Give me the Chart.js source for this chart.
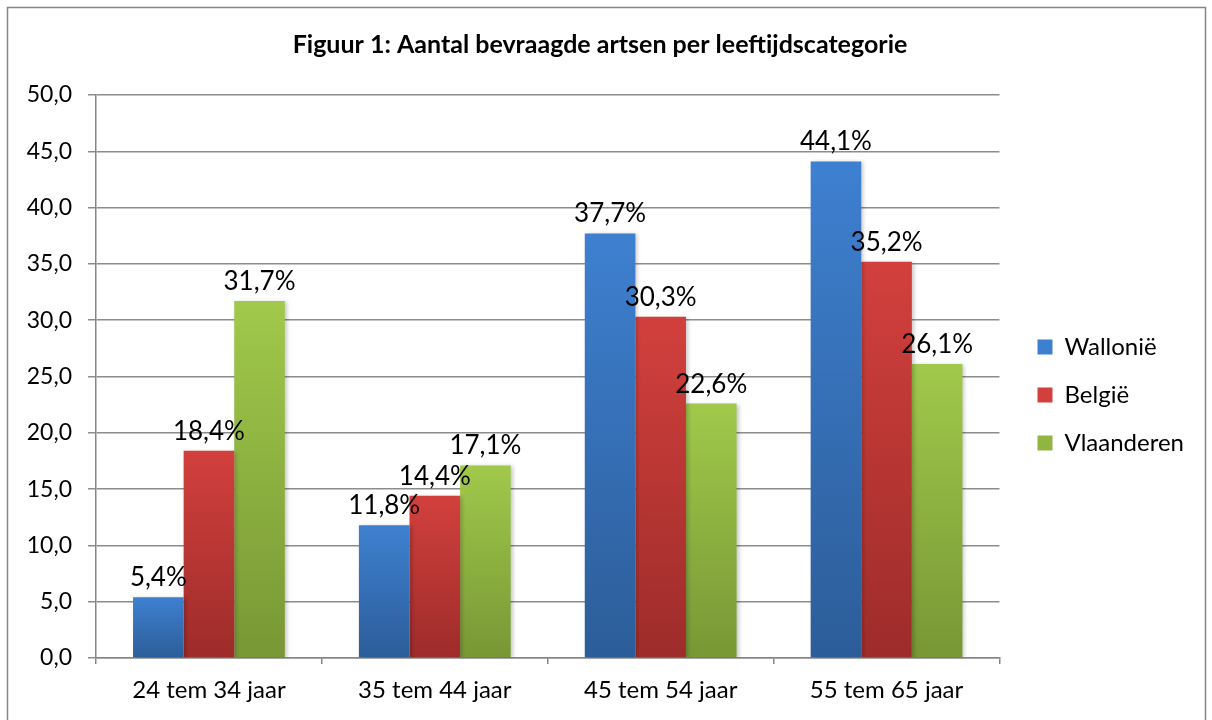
<!DOCTYPE html>
<html>
<head>
<meta charset="utf-8">
<script src="https://cdn.jsdelivr.net/npm/chart.js@4.4.1/dist/chart.umd.min.js"></script>
<style>
  html, body { margin: 0; padding: 0; background: #fff; }
  #wrap { position: absolute; left: 0; top: 0; width: 1212px; height: 720px; }
</style>
</head>
<body>
<div id="wrap"><canvas id="chart" width="1212" height="720"></canvas></div>
<script>
// categorieën en reeksen
const categories = ['24 tem 34 jaar', '35 tem 44 jaar', '45 tem 54 jaar', '55 tem 65 jaar'];
const wallonie = [5.4, 11.8, 37.7, 44.1];
const belgie = [18.4, 14.4, 30.3, 35.2];
const vlaanderen = [31.7, 17.1, 22.6, 26.1];
const yTicks = [0, 5, 10, 15, 20, 25, 30, 35, 40, 45, 50];

const FONT = 'Lato, "Open Sans", sans-serif';
const fmt = v => v.toFixed(1).replace('.', ',');

// verloop per balk, van boven (licht) naar onder (donker)
function barGradient(top, bottom) {
    return (context) => {
        const chart = context.chart;
        const y = chart.scales.y;
        if (!y || context.parsed == null || context.parsed.y == null) return top;
        const yTop = y.getPixelForValue(context.parsed.y);
        const yBot = y.getPixelForValue(0);
        if (!isFinite(yTop) || !isFinite(yBot) || yTop === yBot) return top;
        const g = chart.ctx.createLinearGradient(0, yTop, 0, yBot);
        g.addColorStop(0, top);
        g.addColorStop(1, bottom);
        return g;
    };
}

// kader rond de grafiek
const framePlugin = {
    id: 'frame',
    beforeDraw(chart) {
        const ctx = chart.ctx;
        ctx.save();
        ctx.fillStyle = '#fff';
        ctx.fillRect(0, 0, chart.width, chart.height);
        ctx.strokeStyle = '#868686';
        ctx.lineWidth = 1.5;
        ctx.strokeRect(7.5, 7.5, 1198, 730);
        ctx.restore();
    }
};

// legende iets naar rechts en naar onder schuiven
const legendShift = {
    id: 'legendShift',
    afterLayout(chart) {
        const lg = chart.legend;
        if (!lg) return;
        lg.left += 14; lg.right += 14;
        lg.top += 35; lg.bottom += 35;
    }
};

// lichte schaduw achter de balken
const shadowPlugin = {
    id: 'shadow',
    beforeDatasetsDraw(chart) {
        const ctx = chart.ctx;
        ctx.save();
        ctx.shadowColor = 'rgba(0,0,0,0.22)';
        ctx.shadowBlur = 4;
        ctx.shadowOffsetX = 2;
        ctx.shadowOffsetY = 1;
    },
    afterDatasetsDraw(chart) {
        chart.ctx.restore();
    }
};

// waardelabels boven de balken
const labelPlugin = {
    id: 'valueLabels',
    afterDatasetsDraw(chart) {
        const ctx = chart.ctx;
        ctx.save();
        ctx.font = '26px ' + FONT;
        ctx.fillStyle = '#000';
        ctx.textAlign = 'center';
        ctx.textBaseline = 'alphabetic';
        chart.data.datasets.forEach((ds, i) => {
            chart.getDatasetMeta(i).data.forEach((bar, j) => {
                ctx.fillText(fmt(ds.data[j]) + '%', bar.x, bar.y - 11);
            });
        });
        ctx.restore();
    }
};

new Chart(document.getElementById('chart'), {
    type: 'bar',
    data: {
        labels: categories,
        datasets: [
            { label: 'Wallonië', data: wallonie, backgroundColor: barGradient('#3e80d0', '#2c5d99') },
            { label: 'België', data: belgie, backgroundColor: barGradient('#d2403d', '#9d2c2a') },
            { label: 'Vlaanderen', data: vlaanderen, backgroundColor: barGradient('#a1c94b', '#789735') }
        ]
    },
    options: {
        responsive: false,
        animation: false,
        devicePixelRatio: 1,
        categoryPercentage: 0.672,
        barPercentage: 1.0,
        layout: { padding: { left: 20, right: 32, top: 0, bottom: 0 } },
        plugins: {
            title: {
                display: true,
                text: 'Figuur 1: Aantal bevraagde artsen per leeftijdscategorie',
                color: '#000',
                font: { family: FONT, size: 25, weight: 'bold' },
                padding: { top: 30, bottom: 35 }
            },
            legend: {
                position: 'right',
                labels: {
                    color: '#000',
                    font: { family: FONT, size: 24 },
                    boxWidth: 15,
                    boxHeight: 15,
                    padding: 24
                }
            },
            tooltip: { enabled: false }
        },
        scales: {
            x: {
                grid: { display: true, drawOnChartArea: false, offset: true, color: '#868686', lineWidth: 1.5, tickLength: 6 },
                border: { color: '#868686', width: 1.5 },
                ticks: { color: '#000', font: { family: FONT, size: 24 }, padding: 12 },
                afterFit(scale) { scale.height = 62; }
            },
            y: {
                min: 0,
                max: 50,
                afterBuildTicks(scale) { scale.ticks = yTicks.map(v => ({ value: v })); },
                grid: { color: '#8c8c8c', lineWidth: 1.5, tickLength: 8 },
                border: { color: '#868686', width: 1.5 },
                ticks: { color: '#000', font: { family: FONT, size: 23 }, padding: 16, callback: v => fmt(v) },
                afterFit(scale) { scale.width = 76; }
            }
        }
    },
    plugins: [framePlugin, legendShift, shadowPlugin, labelPlugin]
});
</script>
</body>
</html>
